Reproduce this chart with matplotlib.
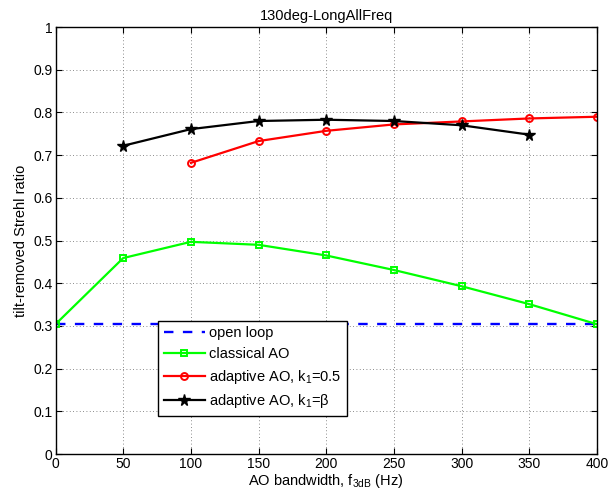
import matplotlib
matplotlib.use("Agg")
import matplotlib.pyplot as plt
import numpy as np

plt.rcParams['font.family'] = ['Liberation Sans', 'DejaVu Sans']
plt.rcParams['mathtext.fontset'] = 'custom'
plt.rcParams['mathtext.rm'] = 'Liberation Sans'
plt.rcParams['mathtext.it'] = 'Liberation Sans'
plt.rcParams['mathtext.default'] = 'regular'

bandwidth = [0, 50, 100, 150, 200, 250, 300, 350, 400]
open_loop = [0.304, 0.304]
classical = [0.304, 0.459, 0.497, 0.490, 0.465, 0.431, 0.393, 0.351, 0.304]
bw_adapt_half = [100, 150, 200, 250, 300, 350, 400]
adapt_half = [0.682, 0.733, 0.757, 0.772, 0.779, 0.786, 0.790]
bw_adapt_beta = [50, 100, 150, 200, 250, 300, 350]
adapt_beta = [0.722, 0.761, 0.780, 0.783, 0.780, 0.770, 0.748]

fig = plt.figure(figsize=(6.08, 4.97), dpi=100)
ax = fig.add_axes([0.0913, 0.0865, 0.8906, 0.859])

ax.plot([0, 400], open_loop, '--', color='blue', lw=1.7, dashes=(4, 4), label='open loop')
ax.plot(bandwidth, classical, '-s', color='#00ff00', lw=1.6, ms=4.5, mfc='none', mew=1.4,
        label='classical AO')
ax.plot(bw_adapt_half, adapt_half, '-o', color='red', lw=1.6, ms=5, mfc='none', mew=1.4,
        label='adaptive AO, k$_1$=0.5')
ax.plot(bw_adapt_beta, adapt_beta, '-*', color='black', lw=1.6, ms=8.5,
        label='adaptive AO, k$_1$=$\\beta$')

ax.set_xlim(0, 400)
ax.set_ylim(0, 1)
ax.set_xticks(np.arange(0, 401, 50))
ax.set_yticks(np.arange(0, 1.01, 0.1))
ax.set_yticklabels(['0', '0.1', '0.2', '0.3', '0.4', '0.5', '0.6', '0.7', '0.8', '0.9', '1'])
ax.tick_params(direction='in', top=True, right=True, labelsize=10, length=4, pad=2)
ax.grid(True, linestyle=(0, (1, 3)), color='#666666', lw=0.6)
for s in ax.spines.values():
    s.set_linewidth(1)

ax.set_title('130deg-LongAllFreq', fontsize=10.5, pad=5)
ax.set_xlabel('AO bandwidth, f$_{3dB}$ (Hz)', fontsize=10.5, labelpad=1)
ax.set_ylabel('tilt-removed Strehl ratio', fontsize=10.5, labelpad=4)

leg = ax.legend(loc='lower left', bbox_to_anchor=(0.189, 0.089), fontsize=10.5,
                fancybox=False, framealpha=1, edgecolor='black', handlelength=2.8,
                borderpad=0.4, labelspacing=0.45, handletextpad=0.3, borderaxespad=0)
leg.get_frame().set_linewidth(1)

fig.savefig('out.png', dpi=100)
